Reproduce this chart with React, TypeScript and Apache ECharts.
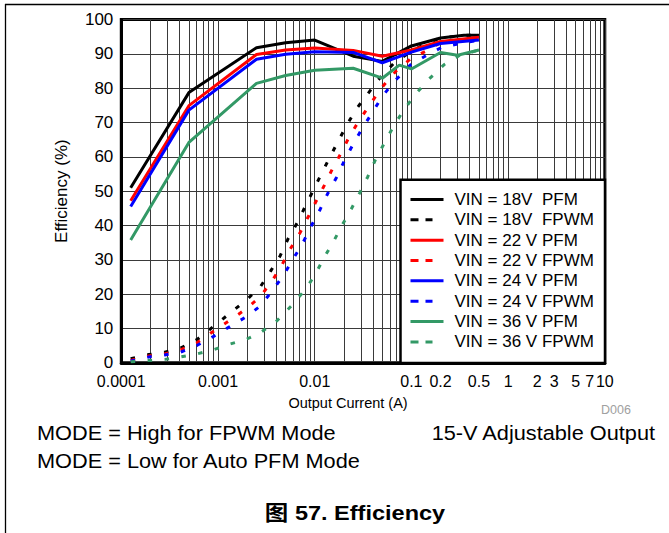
import React, { useEffect, useRef } from 'react';
import * as echarts from 'echarts';

const FONT = "'Liberation Sans', Arial, Helvetica, sans-serif";

// Output current (A) / efficiency (%)
const pfm18I = [0.000125, 0.0005, 0.0025, 0.005, 0.01, 0.025, 0.05, 0.1, 0.2, 0.35, 0.5];
const pfm18E = [51, 78.7, 91.8, 93.2, 94.0, 89.3, 87.8, 92.3, 94.6, 95.4, 95.4];

const fpwm18I = [0.000125, 0.000193, 0.000282, 0.00041, 0.00061, 0.0009, 0.00131, 0.00191, 0.00272, 0.0035, 0.0044, 0.0053, 0.0066, 0.008, 0.0096, 0.0117, 0.0143, 0.0174, 0.0212, 0.0269, 0.0355, 0.047, 0.0667, 0.1, 0.143, 0.2, 0.35, 0.5];
const fpwm18E = [1.2, 2.4, 3.1, 4.3, 6.8, 10.6, 14.3, 18.0, 22.0, 26.7, 31.2, 36.1, 40.8, 45.6, 50.1, 55.0, 59.8, 64.4, 69.0, 73.9, 78.4, 82.9, 87.4, 90.8, 93.0, 94.6, 95.4, 95.4];

const pfm22I = [0.000125, 0.0005, 0.0025, 0.005, 0.01, 0.025, 0.05, 0.1, 0.2, 0.5];
const pfm22E = [47.2, 74.9, 89.8, 91.1, 91.7, 91.0, 89.3, 91.1, 93.6, 94.8];

const fpwm22I = [0.000125, 0.000193, 0.000282, 0.00041, 0.00061, 0.0009, 0.0013, 0.00191, 0.0027, 0.0036, 0.00454, 0.0056, 0.007, 0.0086, 0.0104, 0.0127, 0.0155, 0.0189, 0.023, 0.0292, 0.0377, 0.0488, 0.0684, 0.0995, 0.147, 0.2, 0.5];
const fpwm22E = [0.7, 2.0, 2.6, 3.8, 5.9, 9.2, 12.2, 15.5, 19.1, 23.7, 28.3, 33.2, 37.7, 42.6, 47.2, 51.9, 56.9, 61.3, 66.1, 70.8, 75.4, 80.0, 84.8, 88.7, 91.0, 93.3, 94.8];

const pfm24I = [0.000125, 0.0005, 0.0025, 0.005, 0.01, 0.025, 0.05, 0.1, 0.2, 0.5];
const pfm24E = [45.5, 73.6, 88.4, 89.9, 90.6, 90.4, 87.4, 90.5, 93.0, 94.0];

const fpwm24I = [0.000125, 0.000193, 0.000282, 0.00041, 0.00061, 0.0009, 0.0013, 0.00191, 0.0027, 0.00372, 0.0048, 0.0061, 0.0076, 0.00927, 0.0113, 0.0137, 0.0168, 0.0203, 0.0248, 0.031, 0.0395, 0.0499, 0.0684, 0.098, 0.144, 0.209, 0.5];
const fpwm24E = [0.5, 1.7, 2.3, 3.1, 5.1, 7.7, 10.4, 13.2, 16.4, 21.3, 25.7, 30.6, 35.1, 40.0, 44.5, 49.4, 54.0, 58.9, 63.5, 68.3, 72.9, 77.6, 82.3, 86.8, 89.6, 92.0, 94.0];

const pfm36I = [0.000125, 0.0005, 0.0025, 0.005, 0.01, 0.025, 0.05, 0.075, 0.1, 0.2, 0.3, 0.5];
const pfm36E = [35.8, 64.2, 81.4, 83.7, 85.2, 85.8, 82.9, 86.7, 85.6, 90.4, 89.6, 91.1];

const fpwm36I = [0.000125, 0.000193, 0.000282, 0.00041, 0.00061, 0.0009, 0.0013, 0.00191, 0.00272, 0.00405, 0.0057, 0.0081, 0.0102, 0.0126, 0.0157, 0.0193, 0.0239, 0.0292, 0.0354, 0.0424, 0.0518, 0.064, 0.081, 0.107, 0.149, 0.217, 0.317, 0.5];
const fpwm36E = [0.3, 0.7, 1.0, 1.7, 2.6, 3.8, 5.4, 6.7, 8.7, 12.2, 16.5, 21.5, 25.9, 30.8, 35.4, 40.2, 44.8, 49.5, 54.2, 59.1, 63.7, 68.4, 73.1, 77.8, 82.4, 86.8, 89.6, 91.1];

const seriesNames = [
  'VIN = 18V  PFM', 'VIN = 18V  FPWM',
  'VIN = 22 V PFM', 'VIN = 22 V FPWM',
  'VIN = 24 V PFM', 'VIN = 24 V FPWM',
  'VIN = 36 V PFM', 'VIN = 36 V FPWM',
];
const seriesColors = ['#000000', '#000000', '#ff0000', '#ff0000', '#0000ff', '#0000ff', '#339966', '#339966'];

// log grid lines and tick labels
const gridValues = [
  0.0001, 0.0002, 0.0003, 0.0004, 0.0005, 0.0006, 0.0007, 0.0008, 0.0009,
  0.001, 0.002, 0.003, 0.004, 0.005, 0.006, 0.007, 0.008, 0.009,
  0.01, 0.02, 0.03, 0.04, 0.05, 0.06, 0.07, 0.08, 0.09,
  0.1, 0.2, 0.3, 0.4, 0.5, 0.6, 0.7, 0.8, 0.9,
  1, 2, 3, 4, 5, 6, 7, 8, 9, 10,
];
const xTickValues = [0.0001, 0.001, 0.01, 0.1, 0.2, 0.5, 1, 2, 3, 5, 7, 10];
const xTickLabels = ['0.0001', '0.001', '0.01', '0.1', '0.2', '0.5', '1', '2', '3', '5', '7', '10'];

const pairs = (xs: number[], ys: number[]) => xs.map((x, i) => [x, ys[i]]);

export default function App() {
  const ref = useRef<HTMLDivElement>(null);
  useEffect(() => {
    if (!ref.current) return;
    const chart = echarts.init(ref.current, undefined, { renderer: 'svg' });
    const dataSets = [
      pairs(pfm18I, pfm18E), pairs(fpwm18I, fpwm18E),
      pairs(pfm22I, pfm22E), pairs(fpwm22I, fpwm22E),
      pairs(pfm24I, pfm24E), pairs(fpwm24I, fpwm24E),
      pairs(pfm36I, pfm36E), pairs(fpwm36I, fpwm36E),
    ];
    const series = dataSets.map((d, i) => ({
      name: seriesNames[i],
      type: 'line',
      data: d,
      symbol: 'none',
      showSymbol: false,
      color: seriesColors[i],
      lineStyle: {
        color: seriesColors[i],
        width: 3,
        type: i % 2 === 1 ? [4.5, 12.5] : 'solid',
      },
      z: 2,
    }));
    const labelFor = (v: number) => {
      let best = 0;
      let bd = Infinity;
      xTickValues.forEach((t, i) => {
        const d = Math.abs(Math.log10(t) - Math.log10(v));
        if (d < bd) { bd = d; best = i; }
      });
      return xTickLabels[best];
    };
    chart.setOption({
      animation: false,
      backgroundColor: '#ffffff',
      textStyle: { fontFamily: FONT },
      grid: {
        left: 121.3, top: 19.5, width: 483.5, height: 343.3,
        show: true, borderColor: '#000', borderWidth: 3, backgroundColor: 'transparent',
      },
      xAxis: {
        type: 'log',
        logBase: 10,
        min: 0.0001,
        max: 10,
        name: 'Output Current (A)',
        nameLocation: 'middle',
        nameGap: 33,
        nameTextStyle: { fontSize: 14.5, color: '#000', fontFamily: FONT, padding: [0, 30, 0, 0] },
        axisLine: { show: true, lineStyle: { color: '#000', width: 3 } },
        axisTick: { show: false, customValues: gridValues },
        axisLabel: {
          customValues: xTickValues,
          formatter: (v: number) => labelFor(v),
          fontSize: 16, color: '#000', fontFamily: FONT, margin: 11,
        },
        splitLine: { show: true, lineStyle: { color: '#3a3a3a', width: 1 } },
      },
      yAxis: {
        type: 'value',
        min: 0,
        max: 100,
        interval: 10,
        name: 'Efficiency (%)',
        nameLocation: 'middle',
        nameGap: 51,
        nameRotate: 90,
        nameTextStyle: { fontSize: 17, color: '#000', fontFamily: FONT },
        axisLine: { show: true, lineStyle: { color: '#000', width: 3 } },
        axisTick: { show: false },
        axisLabel: { fontSize: 17, color: '#000', fontFamily: FONT, margin: 8 },
        splitLine: { show: true, lineStyle: { color: '#3a3a3a', width: 1 } },
      },
      legend: {
        orient: 'vertical',
        left: 409,
        top: 189.5,
        padding: 0,
        itemGap: 0.34,
        itemWidth: 33,
        itemHeight: 2,
        selectedMode: false,
        textStyle: { fontSize: 17, color: '#000', fontFamily: FONT, lineHeight: 20, padding: [0, 0, 0, 6] },
        data: seriesNames.map((n, i) => (i % 2 === 1
          ? { name: n, lineStyle: { type: [8, 7, 7, 60], width: 3 } }
          : { name: n, lineStyle: { width: 3 } })),
      },
      graphic: {
        elements: [
          {
            type: 'rect', z: 3,
            shape: { x: 400.5, y: 179.7, width: 204.5, height: 183.3 },
            style: { fill: '#fff', stroke: '#000', lineWidth: 2.5 },
          },
          {
            type: 'line', z: 3,
            shape: { x1: 5, y1: 4.5, x2: 669, y2: 4.5 },
            style: { stroke: '#000', lineWidth: 1.3 },
          },
          {
            type: 'line', z: 3,
            shape: { x1: 5.5, y1: 4, x2: 5.5, y2: 533 },
            style: { stroke: '#000', lineWidth: 1.3 },
          },
          {
            type: 'text', x: 616, y: 410,
            style: { text: 'D006', fill: '#a0a0a0', font: `12.5px ${FONT}`, align: 'center', verticalAlign: 'middle' },
          },
          {
            type: 'text', x: 37, y: 433, scaleX: 1.06,
            style: { text: 'MODE = High for FPWM Mode', fill: '#000', font: `20.5px ${FONT}`, align: 'left', verticalAlign: 'middle' },
          },
          {
            type: 'text', x: 655, y: 433, scaleX: 1.06,
            style: { text: '15-V Adjustable Output', fill: '#000', font: `20.5px ${FONT}`, align: 'right', verticalAlign: 'middle' },
          },
          {
            type: 'text', x: 37, y: 460.5, scaleX: 1.06,
            style: { text: 'MODE = Low for Auto PFM Mode', fill: '#000', font: `20.5px ${FONT}`, align: 'left', verticalAlign: 'middle' },
          },
          {
            type: 'text', x: 355, y: 513, scaleX: 1.12,
            style: { text: '图 57. Efficiency', fill: '#000', font: `bold 21px ${FONT}, 'Noto Sans CJK SC'`, align: 'center', verticalAlign: 'middle' },
          },
        ],
      },
      series,
    });
    return () => chart.dispose();
  }, []);
  return <div ref={ref} style={{ position: 'absolute', left: 0, top: 0, width: 669, height: 533 }} />;
}
